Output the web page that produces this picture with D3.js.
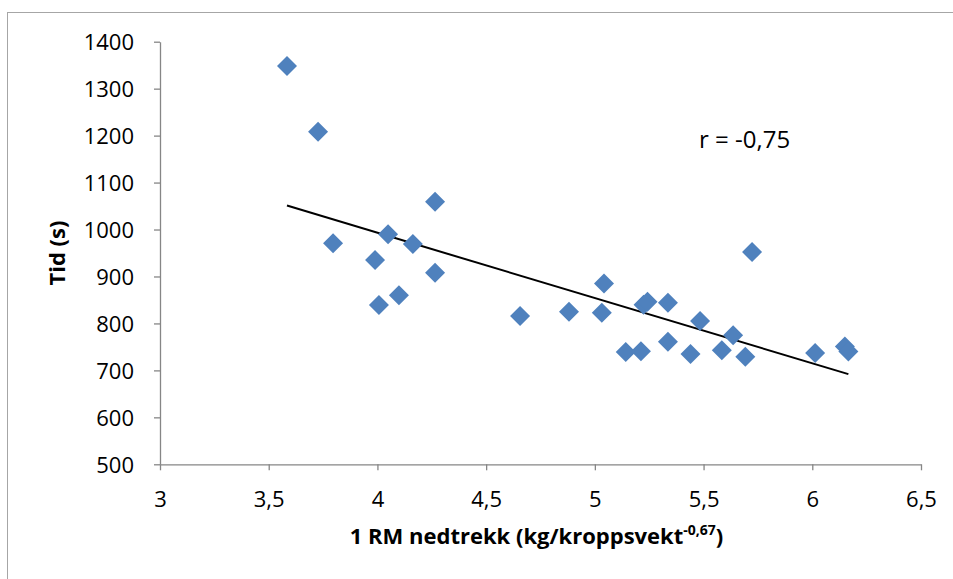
<!DOCTYPE html>
<html>
<head>
<meta charset="utf-8">
<script src="https://cdn.jsdelivr.net/npm/d3@7"></script>
<style>
  html, body { margin: 0; padding: 0; background: #fff; }
  svg { display: block; }
  text { font-family: "Open Sans", "Liberation Sans", sans-serif; fill: #000; }
</style>
</head>
<body>
<svg id="chart" width="953" height="579"></svg>
<script>
// ---- data ----
const xValues = [3.584, 3.727, 3.796, 3.989, 4.007, 4.049, 4.099, 4.163, 4.265, 4.265,
                 4.656, 4.881, 5.032, 5.042, 5.142, 5.212, 5.224, 5.242, 5.336, 5.336,
                 5.440, 5.484, 5.584, 5.636, 5.692, 5.723, 6.013, 6.150, 6.166];
const yValues = [1348, 1208, 971, 935, 839, 990, 860, 969, 1059, 908,
                 816, 825, 823, 885, 739, 741, 840, 846, 844, 761,
                 735, 805, 743, 775, 729, 952, 737, 751, 740];
const trendX = [3.584, 6.166];
const trendY = [1051, 692];
const xTicks = [3, 3.5, 4, 4.5, 5, 5.5, 6, 6.5];
const yTicks = [500, 600, 700, 800, 900, 1000, 1100, 1200, 1300, 1400];
const annotation = "r = -0,75";
const xTitle = "1 RM nedtrekk (kg/kroppsvekt";
const xTitleSup = "-0,67";
const yTitle = "Tid (s)";

// ---- layout ----
const svg = d3.select("#chart");
const mLeft = 160, mRight = 921, mTop = 41.7, mBottom = 464.3;
const x = d3.scaleLinear().domain([3, 6.5]).range([mLeft, mRight]);
const y = d3.scaleLinear().domain([500, 1400]).range([mBottom, mTop]);
const axisColor = "#868686";
const fmt = d => String(d).replace(".", ",");

// outer frame
svg.append("rect").attr("x", 7.5).attr("y", 12.5).attr("width", 1000).attr("height", 700)
  .attr("fill", "#fff").attr("stroke", "#a6a6a6").attr("stroke-width", 1);

// y axis
const yAxis = d3.axisLeft(y).tickValues(yTicks).tickSize(6).tickSizeOuter(0).tickFormat(d => d);
const gy = svg.append("g").attr("transform", `translate(${mLeft},0)`).call(yAxis);
gy.select(".domain").attr("stroke", axisColor).attr("stroke-width", 1.3);
gy.selectAll(".tick line").attr("stroke", axisColor).attr("stroke-width", 1.3);
gy.selectAll(".tick text").attr("x", -26).attr("dy", "0.36em")
  .style("font-size", "22px").style("font-family", "'Open Sans', sans-serif").attr("fill", "#000");

// x axis
const xAxis = d3.axisBottom(x).tickValues(xTicks).tickSize(6).tickSizeOuter(0).tickFormat(fmt);
const gx = svg.append("g").attr("transform", `translate(0,${mBottom})`).call(xAxis);
gx.select(".domain").attr("stroke", axisColor).attr("stroke-width", 1.3);
gx.selectAll(".tick line").attr("stroke", axisColor).attr("stroke-width", 1.3);
gx.selectAll(".tick text").attr("y", 27).attr("dy", "0.71em")
  .style("font-size", "22px").style("font-family", "'Open Sans', sans-serif").attr("fill", "#000");

// trend line
svg.append("line")
  .attr("x1", x(trendX[0])).attr("y1", y(trendY[0]))
  .attr("x2", x(trendX[1])).attr("y2", y(trendY[1]))
  .attr("stroke", "#000").attr("stroke-width", 2);

// points (diamonds)
const diamond = d3.symbol().type(d3.symbolSquare).size(200);
svg.append("g").selectAll("path")
  .data(xValues.map((v, i) => [v, yValues[i]]))
  .join("path")
  .attr("d", diamond)
  .attr("transform", d => `translate(${x(d[0])},${y(d[1])}) rotate(45)`)
  .attr("fill", "#4F81BD");

// annotation
svg.append("text").attr("x", 699).attr("y", 148)
  .style("font-size", "24px").text(annotation);

// y title
svg.append("text")
  .attr("transform", `translate(65,${(mTop + mBottom) / 2}) rotate(-90)`)
  .attr("text-anchor", "middle")
  .style("font-size", "22px").style("font-weight", "bold").text(yTitle);

// x title
const xt = svg.append("text").attr("x", (mLeft + mRight) / 2 - 4).attr("y", 544)
  .attr("text-anchor", "middle").style("font-size", "22px").style("font-weight", "bold");
xt.append("tspan").text(xTitle);
xt.append("tspan").attr("dy", -9).style("font-size", "14px").text(xTitleSup);
xt.append("tspan").attr("dy", 9).text(")");
</script>
</body>
</html>
